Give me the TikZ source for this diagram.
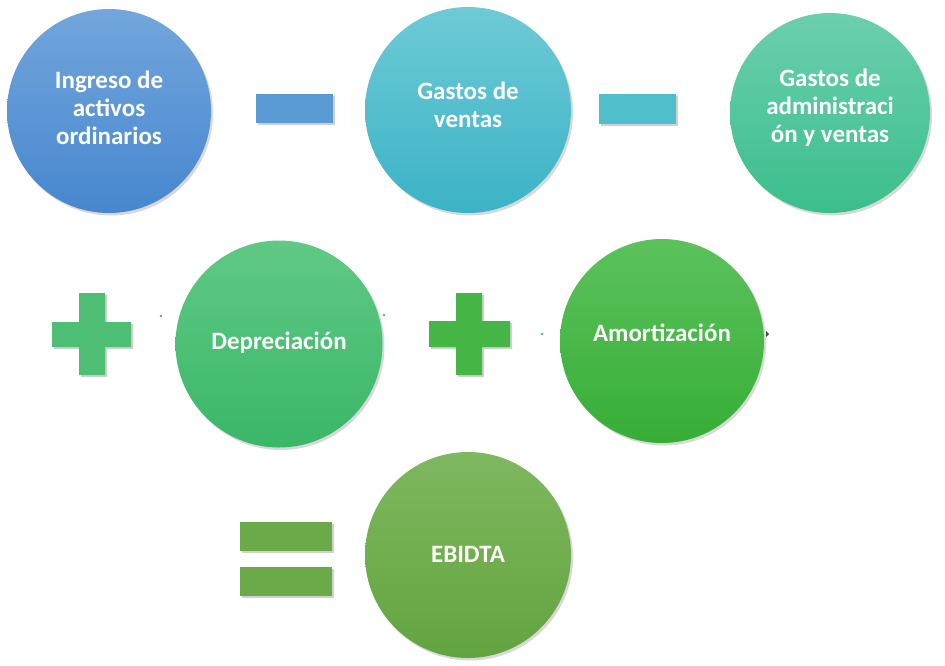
\documentclass[tikz,border=0pt]{standalone}
\usepackage{fontspec}
\setmainfont{Carlito}
\usetikzlibrary{shadows}
\definecolor{cA1}{HTML}{72A6DC}\definecolor{cA2}{HTML}{4787CF}
\definecolor{cB1}{HTML}{6ECAD6}\definecolor{cB2}{HTML}{3BB3C6}
\definecolor{cC1}{HTML}{6BCFAE}\definecolor{cC2}{HTML}{3CBE8C}
\definecolor{cD1}{HTML}{60C984}\definecolor{cD2}{HTML}{3AB768}
\definecolor{cE1}{HTML}{5CC25C}\definecolor{cE2}{HTML}{36AE36}
\definecolor{cF1}{HTML}{7FB85F}\definecolor{cF2}{HTML}{62A43F}
\definecolor{opA}{HTML}{5B9BD5}\definecolor{opB}{HTML}{4FBFCC}
\definecolor{opD}{HTML}{4DBE74}\definecolor{opE}{HTML}{45B545}
\definecolor{opF}{HTML}{6BAA48}\definecolor{dotc}{HTML}{6F8FC8}
\tikzset{
  bub/.style={circle,inner sep=0pt,minimum size=#1,
    drop shadow={shadow xshift=2pt,shadow yshift=-2.5pt,opacity=0.25,fill=black!60}},
  txt/.style={inner sep=0pt,text=white,font=\fontsize{25}{28}\selectfont\bfseries,align=center},
  opbar/.style={rectangle,inner sep=0pt,
    drop shadow={shadow xshift=2pt,shadow yshift=-2pt,opacity=0.3,fill=black!60}},
  tinydot/.style={circle,fill=dotc,inner sep=0pt,minimum size=2.6pt}
}
\begin{document}
\begin{tikzpicture}[x=1pt,y=1pt]
\useasboundingbox (0,0) rectangle (945,-665);
\fill[white] (0,0) rectangle (945,-665);
% top row
\node[bub=204pt,top color=cA1,bottom color=cA2] (ing) at (109,-111) {};
\node[txt] (ingt) at ([yshift=3pt]ing.center) {Ingreso de\\activos\\ordinarios};
\node[bub=206pt,top color=cB1,bottom color=cB2] (gv) at (468,-110) {};
\node[txt] (gvt) at ([yshift=5pt]gv.center) {Gastos de\\ventas};
\node[bub=200pt,top color=cC1,bottom color=cC2] (ga) at (830,-113) {};
\node[txt] (gat) at ([yshift=5pt]ga.center) {Gastos de\\administraci\\ón y ventas};
\node[opbar,fill=opA,minimum width=77pt,minimum height=29pt] (m1) at (294.5,-108.5) {};
\node[opbar,fill=opB,minimum width=77pt,minimum height=30pt] (m2) at (637.5,-109) {};
% middle row
\fill[opD,drop shadow={shadow xshift=2pt,shadow yshift=-2pt,opacity=0.3,fill=black!60}]
  (79,-293) -- (105,-293) -- (105,-322) -- (131,-322) -- (131,-347) -- (105,-347)
  -- (105,-375) -- (79,-375) -- (79,-347) -- (52,-347) -- (52,-322) -- (79,-322) -- cycle;
\node[inner sep=0pt] (p1) at (91.5,-334) {};
\node[bub=207pt,top color=cD1,bottom color=cD2] (dep) at (279,-344) {};
\node[txt] (dept) at ([yshift=1pt]dep.center) {Depreciación};
\fill[opE,drop shadow={shadow xshift=2pt,shadow yshift=-2pt,opacity=0.3,fill=black!60}]
  (456,-293) -- (482,-293) -- (482,-321) -- (510,-321) -- (510,-347) -- (482,-347)
  -- (482,-375) -- (456,-375) -- (456,-347) -- (429,-347) -- (429,-321) -- (456,-321) -- cycle;
\node[inner sep=0pt] (p2) at (469.5,-334) {};
\node[bub=204pt,top color=cE1,bottom color=cE2] (amo) at (662,-341) {};
\node[txt] (amot) at ([yshift=8pt]amo.center) {Amortización};
\node[tinydot] (d1) at (161,-316) {};
\node[tinydot,fill=cB2] (d2) at (384,-315) {};
\node[tinydot,fill=cC2] (d3) at (542,-334) {};
\coordinate (t1) at (766,-331);
\coordinate (t2) at (766,-337);
\coordinate (t3) at (769,-334);
\fill[black!70] (t1) -- (t3) -- (t2) -- cycle;
% bottom row
\node[opbar,fill=opF,minimum width=92pt,minimum height=29pt] (e1) at (286,-536.5) {};
\node[opbar,fill=opF,minimum width=92pt,minimum height=29pt] (e2) at (286,-581.5) {};
\node[bub=206pt,top color=cF1,bottom color=cF2] (eb) at (468,-555) {};
\node[txt] (ebt) at ([yshift=1pt]eb.center) {EBIDTA};
\end{tikzpicture}
\end{document}
